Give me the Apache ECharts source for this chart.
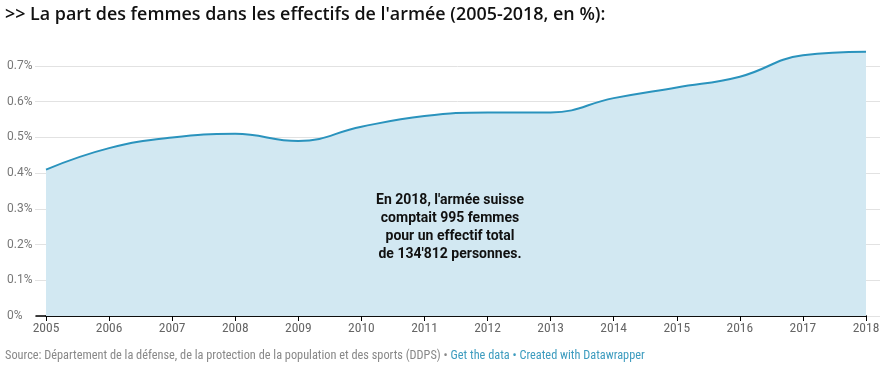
<!DOCTYPE html>
<html>
<head>
<meta charset="utf-8">
<script src="https://cdn.jsdelivr.net/npm/echarts@6/dist/echarts.min.js"></script>
<style>
html,body{margin:0;padding:0;background:#fff;}
#chart{width:887px;height:372px;}
</style>
</head>
<body>
<div id="chart"></div>
<script>
const years = ['2005','2006','2007','2008','2009','2010','2011','2012','2013','2014','2015','2016','2017','2018'];
const shareWomen = [0.41,0.47,0.50,0.51,0.49,0.53,0.56,0.57,0.57,0.61,0.64,0.67,0.73,0.74];
const yTicks = [0,0.1,0.2,0.3,0.4,0.5,0.6,0.7];
const titleText = ">> La part des femmes dans les effectifs de l'armée (2005-2018, en %):";
const noteLines = ["En 2018, l'armée suisse","comptait 995 femmes","pour un effectif total","de 134'812 personnes."];
const sourceText = "Source: Département de la défense, de la protection de la population et des sports (DDPS) • ";
const linkText = "Get the data • Created with Datawrapper";

const chart = echarts.init(document.getElementById('chart'), null, {renderer:'canvas'});
const narrow = "'Liberation Sans Narrow', 'Roboto Condensed', Roboto, sans-serif";
chart.setOption({
  animation:false,
  backgroundColor:'#fff',
  grid:[
    {left:46,right:21,top:66,bottom:56},
    {left:35,right:7,top:66,bottom:56},
    {left:36,right:21,top:66,bottom:56}
  ],
  xAxis:[
    {type:'category',gridIndex:0,data:years,boundaryGap:false,
     axisLine:{show:true,lineStyle:{color:'#000',width:1.5}},
     axisTick:{show:true,alignWithLabel:true,length:5,lineStyle:{color:'#000',width:1}},
     axisLabel:{color:'#666',fontFamily:narrow,fontSize:13.5,margin:6},
     splitLine:{show:false}},
    {type:'value',gridIndex:1,show:false,min:0,max:1},
    {type:'value',gridIndex:2,min:0,max:1,axisLine:{show:true,lineStyle:{color:'#000',width:1.5}},
     axisTick:{show:false},axisLabel:{show:false},splitLine:{show:false}}
  ],
  yAxis:[
    {type:'value',gridIndex:0,min:0,max:0.7,interval:0.1,show:false},
    {type:'value',gridIndex:1,min:0,max:0.7,interval:0.1,
     axisLine:{show:false},axisTick:{show:false},
     splitLine:{show:true,lineStyle:{color:'#e2e2e2',width:1}},
     axisLabel:{align:'left',margin:28,color:'#777',fontFamily:'Roboto, sans-serif',fontSize:12,
       formatter:v=>{const t=yTicks.find(x=>Math.abs(x-v)<1e-9);return t===0?'0%':(t!==undefined?t.toFixed(1)+'%':'');}}},
    {type:'value',gridIndex:2,min:0,max:1,show:false}
  ],
  series:[{
    type:'line',xAxisIndex:0,yAxisIndex:0,data:shareWomen,
    smooth:0.45,clip:false,symbol:'none',
    lineStyle:{color:'#2a93bd',width:2},
    areaStyle:{color:'#d2e8f2',opacity:1},
    z:1
  }],
  graphic:[
    {type:'text',left:5,top:6,style:{text:titleText,fontFamily:"'Open Sans', sans-serif",fontWeight:600,fontSize:17.9,fill:'#111'}},
    {type:'text',x:450,y:191,z:10,style:{text:noteLines.join('\n'),fontFamily:'Roboto, sans-serif',fontWeight:'bold',fontSize:14,lineHeight:18,fill:'#111',align:'center'}},
    {type:'text',left:5,top:350,style:{
      text:'{a|'+sourceText+'}{b|'+linkText+'}',
      rich:{a:{fontFamily:narrow,fontSize:12.3,fill:'#888'},b:{fontFamily:narrow,fontSize:12.3,fill:'#3d9cbf'}}
    }}
  ]
});
</script>
</body>
</html>
